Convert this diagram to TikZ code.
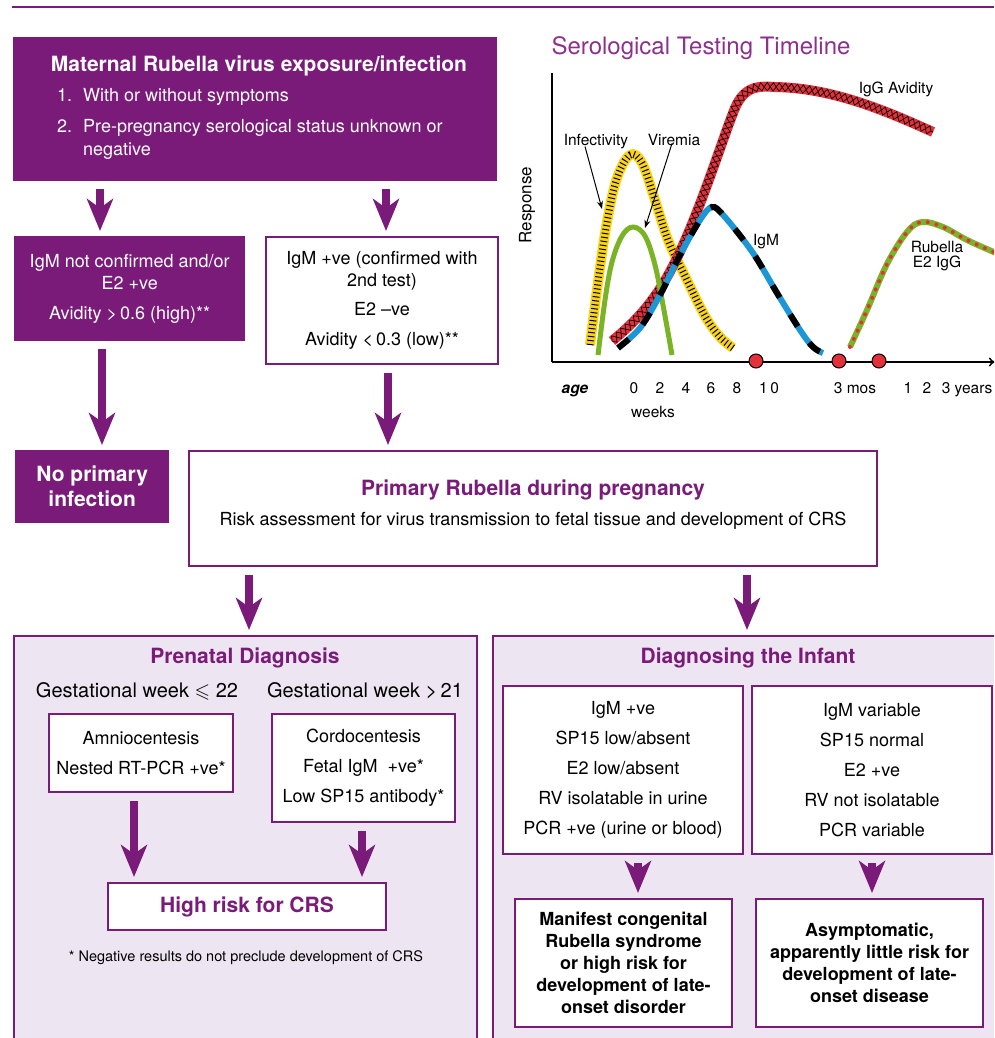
\documentclass[tikz,border=0pt]{standalone}
\usepackage{fontspec}
\usepackage{amssymb}
\setmainfont{TeX Gyre Heros}
\usetikzlibrary{arrows.meta,decorations.pathmorphing,calc}

\definecolor{plum}{RGB}{122,27,122}
\definecolor{chartplum}{RGB}{140,48,140}
\definecolor{lav}{RGB}{238,229,242}
\definecolor{igmblue}{RGB}{28,150,212}
\definecolor{leaf}{RGB}{122,180,38}
\definecolor{bloodred}{RGB}{228,48,58}
\definecolor{sun}{RGB}{250,212,20}

\tikzset{
  fillbox/.style={draw=none, fill=plum, text=white, align=center, inner sep=0pt, anchor=north west},
  linebox/.style={draw=plum, line width=2pt, fill=white, align=center, inner sep=0pt, anchor=north west},
  panel/.style={draw=plum, line width=2pt, fill=lav, anchor=north west, inner sep=0pt},
  flowarrow/.style={draw=plum, line width=8pt, shorten <=8pt, shorten >=5pt,
    -{Stealth[length=32pt,width=26pt,inset=9pt]}},
  body/.style={font=\fontsize{18}{22}\selectfont},
  heading/.style={font=\fontsize{21}{25}\selectfont\bfseries},
  boldbody/.style={font=\fontsize{18}{22}\selectfont\bfseries},
  txt/.style={inner sep=0pt},
  chartlbl/.style={inner sep=0pt, font=\fontsize{15.5}{18}\selectfont},
  pointer/.style={draw=black, line width=1pt, -{Stealth[length=8pt,width=6pt]}},
  crosshatch/.style={draw=black, line width=0.7pt, decorate,
    decoration={zigzag, amplitude=4.2pt, segment length=12pt, #1}},
  crosshatch/.default={},
}

\begin{document}
\begin{tikzpicture}[x=1pt,y=-1pt]
\useasboundingbox (0,0) rectangle (994,1038);
\clip (0,0) rectangle (994,1038);

% header rule
\draw[plum, line width=2pt] (12,7) -- (994,7);

% ---------- exposure box ----------
\node[fillbox, minimum width=484pt, minimum height=144pt] (mat) at (13,37) {};
\node[txt, anchor=base, text=white, heading] at (259,72) {Maternal Rubella virus exposure/infection};
\node[txt, anchor=base west, text=white, body] at (57,102) {1.};
\node[txt, anchor=base west, text=white, body] at (83,102) {With or without symptoms};
\node[txt, anchor=base west, text=white, body] at (57,132) {2.};
\node[txt, anchor=base west, text=white, body] at (83,132) {Pre-pregnancy serological status unknown or};
\node[txt, anchor=base west, text=white, body] at (83,155) {negative};

% ---------- serology results ----------
\node[fillbox, body, minimum width=231pt, minimum height=105pt] (igA) at (14,236)
  {IgM not confirmed and/or\\E2 +ve\\[8pt]Avidity >\,0.6 (high)**};
\node[linebox, body, minimum width=232pt, minimum height=127pt] (igB) at (265,236)
  {IgM +ve (confirmed with\\2nd test)\\[7pt]E2 \textendash ve\\[8pt]Avidity <\,0.3 (low)**};

\node[fillbox, heading, minimum width=154pt, minimum height=73pt] (nopri) at (15,450)
  {No primary\\infection};
\node[linebox, body, minimum width=688pt, minimum height=115pt, text depth=12pt] (prim) at (188,450)
  {{\color{plum}\fontsize{21}{25}\selectfont\bfseries Primary Rubella during pregnancy}\\[8pt]
   Risk assessment for virus transmission to fetal tissue and development of CRS};

\draw[flowarrow] (mat.south -| 100,0) -- (igA.north -| 100,0);
\draw[flowarrow] (mat.south -| 386,0) -- (igB.north -| 386,0);
\draw[flowarrow] (igA.south -| 102,0) -- (nopri.north -| 102,0);
\draw[flowarrow] (igB.south -| 388,0) -- (prim.north -| 388,0);

% ---------- prenatal panel ----------
\node[panel, minimum width=463pt, minimum height=420pt] (pre) at (13,635) {};
\node[txt, anchor=base, text=plum, heading] at (245,663) {Prenatal Diagnosis};
\node[txt, anchor=base, font=\fontsize{20}{24}\selectfont] at (137,697) {Gestational week $\leqslant$ 22};
\node[txt, anchor=base, font=\fontsize{20}{24}\selectfont] at (365,697) {Gestational week >\,21};

\node[linebox, body, minimum width=184pt, minimum height=78pt] (amnio) at (48,713)
  {Amniocentesis\\[8pt]Nested RT-PCR +ve*};
\node[linebox, body, minimum width=183pt, minimum height=108pt] (cordo) at (271,713)
  {Cordocentesis\\[8pt]Fetal IgM\ \ +ve*\\[8pt]Low SP15 antibody*};
\node[linebox, minimum width=278pt, minimum height=47pt] (risk) at (107,882)
  {\color{plum}\fontsize{21}{25}\selectfont\bfseries High risk for CRS};
\node[txt, anchor=base, font=\fontsize{14.5}{17}\selectfont] at (246,961)
  {* Negative results do not preclude development of CRS};

\draw[flowarrow] (amnio.south -| 134,0) -- (risk.north -| 134,0);
\draw[flowarrow] (cordo.south -| 362,0) -- (risk.north -| 362,0);

% ---------- infant panel ----------
\node[panel, minimum width=520pt, minimum height=420pt] (inf) at (492,635) {};
\node[txt, anchor=base, text=plum, heading] at (748,663) {Diagnosing the Infant};

\node[linebox, body, minimum width=240pt, minimum height=168pt] (sympt) at (502,685)
  {IgM +ve\\[8pt]SP15 low/absent\\[8pt]E2 low/absent\\[8pt]RV isolatable in urine\\[8pt]PCR +ve (urine or blood)};
\node[linebox, body, minimum width=240pt, minimum height=168pt] (asym) at (751,685)
  {IgM variable\\[8pt]SP15 normal\\[8pt]E2 +ve\\[8pt]RV not isolatable\\[8pt]PCR variable};
\node[linebox, boldbody, minimum width=217pt, minimum height=128pt] (manif) at (514,898)
  {Manifest congenital\\Rubella syndrome\\or high risk for\\development of late-\\onset disorder};
\node[linebox, boldbody, minimum width=227pt, minimum height=128pt] (little) at (755,898)
  {Asymptomatic,\\apparently little risk for\\development of late-\\onset disease};

\draw[flowarrow] (sympt.south -| 638,0) -- (manif.north -| 638,0);
\draw[flowarrow] (asym.south -| 872,0) -- (little.north -| 872,0);

% arrows from the pregnancy box into both panels
\draw[flowarrow] (prim.south -| 249,0) -- (pre.north -| 249,0);
\draw[flowarrow] (prim.south -| 747,0) -- (inf.north -| 747,0);

% ---------- serological timeline chart ----------
\node[txt, anchor=base, text=chartplum, font=\fontsize{24}{28}\selectfont] at (701,55)
  {Serological Testing Timeline};

\draw[black, line width=1.5pt] (552,73) -- (552,362);
\draw[black, line width=1.5pt, -{To[length=6pt,width=9pt]}] (552,362) -- (995,362);
\node[txt, rotate=90, font=\fontsize{17}{20}\selectfont] at (527,205) {Response};

\def\infcurve{plot[smooth, tension=0.6] coordinates {(590,345) (598,282) (607,222) (617,178) (630,155) (642,163) (655,200) (668,240) (685,276) (705,316) (720,337) (733,348)}}
\def\vircurve{plot[smooth, tension=0.6] coordinates {(598,355) (605,300) (612,262) (622,236) (633,227) (645,236) (655,265) (663,305) (672,355)}}
\def\avicurve{(612,341) .. controls (635,322) and (655,302) .. (675,262)
  .. controls (700,212) and (722,140) .. (735,108)
  .. controls (745,85) and (760,86) .. (775,87)
  .. controls (830,88) and (880,108) .. (933,132)}
\def\igmcurve{plot[smooth, tension=0.55] coordinates {(618,348) (640,328) (660,295) (680,255) (700,220) (712,207) (724,216) (753,253) (777,293) (800,330) (813,347) (823,353)}}
\def\etwocurve{plot[smooth, tension=0.6] coordinates {(850,347) (867,310) (887,264) (907,232) (922,222) (943,227) (967,240) (996,253)}}

% infectivity: hatched yellow band
\draw[sun, line width=10pt] \infcurve;
\draw[black, line width=7pt, dash pattern=on 1pt off 3pt] \infcurve;
% IgG avidity: cross-hatched red band
\draw[bloodred, line width=10pt] \avicurve;
\draw[crosshatch] \avicurve;
\draw[crosshatch=mirror] \avicurve;
% viremia
\draw[leaf, line width=5pt] \vircurve;
% IgM: blue with black dashes
\draw[igmblue, line width=6pt] \igmcurve;
\draw[black, line width=6pt, dash pattern=on 14pt off 20pt] \igmcurve;
% Rubella E2 IgG: green with red dots
\draw[leaf, line width=6pt] \etwocurve;
\draw[bloodred, line width=4pt, line cap=round, dash pattern=on 0pt off 9pt] \etwocurve;

% sampling points on the age axis
\foreach \px in {756,839,879}
  \draw[fill=bloodred, draw=black, line width=1pt] (\px,361) circle[radius=7pt];

% curve labels
\node[chartlbl, anchor=base] (infl) at (596,145) {Infectivity};
\node[chartlbl, anchor=base] (virl) at (674,145) {Viremia};
\node[chartlbl, anchor=base] (avil) at (896,94) {IgG Avidity};
\node[chartlbl, anchor=base] (igml) at (766,245) {IgM};
\node[chartlbl, anchor=base, align=center, font=\fontsize{15.5}{15}\selectfont] (etwol) at (937,267) {Rubella\\E2 IgG};
\coordinate (inftip) at (602,209);
\coordinate (virtip) at (645,228);
\draw[pointer] ($(infl.south)+(-11,-2)$) -- (inftip);
\draw[pointer] ($(virl.south)+(-2,-2)$) -- (virtip);

% age axis labels
\node[chartlbl, anchor=base, font=\fontsize{15.5}{18}\selectfont\bfseries\itshape] at (575,393) {age};
\foreach \tx/\tl in {634/0, 660/2, 686/4, 711/6, 737/8, 769/{1\,0}, 855/{3 mos}, 908/1, 927/2, 967/{3 years}}
  \node[chartlbl, anchor=base] at (\tx,393) {\tl};
\node[chartlbl, anchor=base] at (653,417) {weeks};

\end{tikzpicture}
\end{document}
